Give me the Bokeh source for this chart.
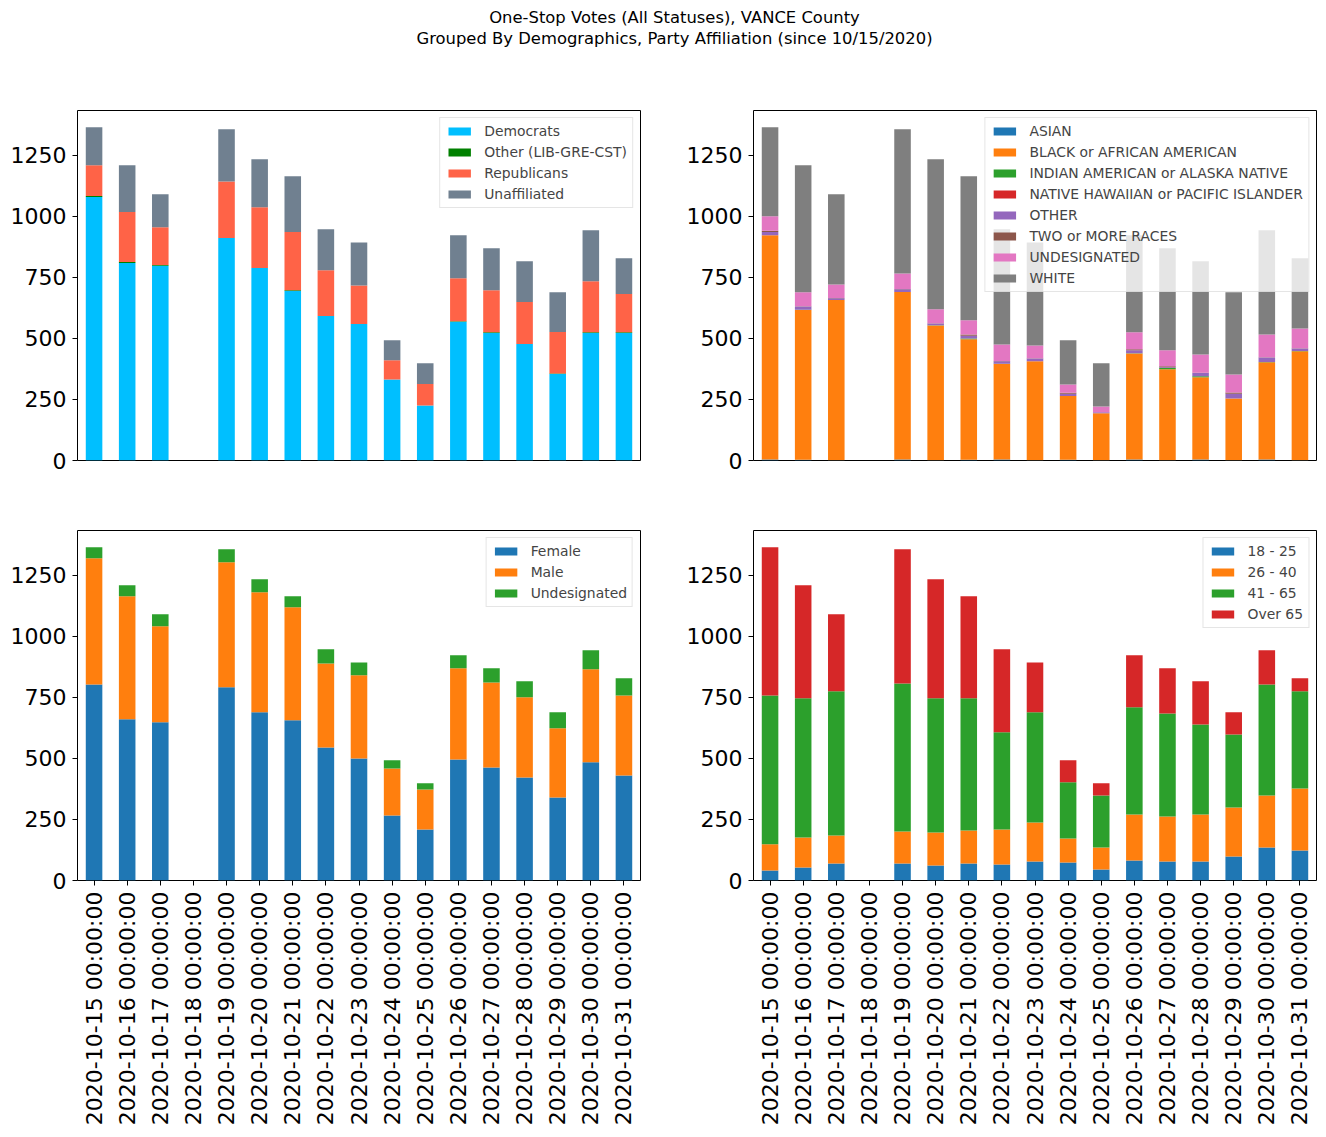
import math
from bokeh.plotting import figure
from bokeh.layouts import column, row
from bokeh.models import (ColumnDataSource, FactorRange, Range1d, FixedTicker,
                          Legend, LegendItem)
from bokeh.core.properties import value
from bokeh.embed import file_html
from bokeh.resources import INLINE

# ---------------- data ----------------
dates = ["2020-10-%02d 00:00:00" % d for d in range(15, 32)]

party_names = ["Democrats", "Other (LIB-GRE-CST)", "Republicans", "Unaffiliated"]
democrats    = [1079, 809, 798, 0, 911, 788, 694, 592, 559, 332, 225, 568, 522, 477, 354, 522, 522]
other_party  = [4, 4, 3, 0, 0, 0, 3, 0, 0, 0, 0, 2, 3, 0, 2, 3, 3]
republicans  = [126, 205, 154, 0, 232, 249, 239, 187, 158, 79, 88, 176, 172, 172, 170, 209, 157]
unaffiliated = [156, 191, 135, 0, 213, 197, 228, 168, 176, 81, 85, 176, 172, 167, 163, 209, 146]

race_names = ["ASIAN", "BLACK or AFRICAN AMERICAN", "INDIAN AMERICAN or ALASKA NATIVE",
              "NATIVE HAWAIIAN or PACIFIC ISLANDER", "OTHER", "TWO or MORE RACES",
              "UNDESIGNATED", "WHITE"]
asian        = [4, 3, 1, 0, 4, 1, 3, 4, 1, 3, 1, 4, 1, 4, 1, 4, 1]
black        = [918, 613, 656, 0, 686, 552, 494, 391, 405, 261, 193, 434, 373, 337, 253, 398, 446]
indian       = [0, 1, 0, 0, 0, 1, 3, 1, 0, 0, 0, 1, 5, 4, 0, 1, 1]
hawaiian     = [0, 0, 0, 0, 0, 0, 0, 0, 0, 0, 0, 0, 0, 0, 0, 0, 0]
other_race   = [14, 14, 7, 0, 11, 7, 11, 10, 12, 9, 4, 12, 3, 13, 19, 19, 11]
two_more     = [5, 1, 1, 0, 1, 1, 5, 1, 1, 4, 0, 5, 4, 1, 5, 1, 1]
undes_race   = [59, 57, 56, 0, 64, 57, 58, 68, 52, 34, 23, 69, 65, 75, 74, 93, 81]
white        = [365, 520, 369, 0, 590, 615, 590, 472, 422, 181, 177, 397, 418, 382, 337, 427, 287]

gender_names = ["Female", "Male", "Undesignated"]
female       = [803, 660, 648, 0, 791, 689, 656, 545, 500, 266, 209, 496, 463, 422, 340, 484, 430]
male         = [517, 504, 393, 0, 512, 491, 463, 344, 340, 193, 164, 373, 348, 328, 283, 381, 328]
undes_gender = [45, 45, 49, 0, 53, 54, 45, 58, 53, 33, 25, 53, 58, 66, 66, 78, 70]

age_names = ["18 - 25", "26 - 40", "41 - 65", "Over 65"]
age_18_25 = [41, 53, 70, 0, 70, 61, 70, 66, 78, 74, 45, 82, 78, 78, 98, 135, 123]
age_26_40 = [107, 123, 114, 0, 131, 136, 135, 143, 160, 98, 90, 188, 184, 192, 201, 213, 254]
age_41_65 = [610, 570, 591, 0, 606, 549, 541, 398, 451, 230, 213, 439, 422, 369, 299, 455, 398]
age_over65 = [607, 463, 315, 0, 549, 488, 418, 340, 204, 90, 50, 213, 185, 177, 91, 140, 53]

y_ticks = [0, 250, 500, 750, 1000, 1250]

title_lines = ["One-Stop Votes (All Statuses), VANCE County",
               "Grouped By Demographics, Party Affiliation (since 10/15/2020)"]

FONT = "DejaVu Sans"
totals = [sum(v) for v in zip(democrats, other_party, republicans, unaffiliated)]
YMAX = max(totals) * 1.05

FRAME_W, FRAME_H = 563, 350


def make_panel(names, series, colors, left, right, top, bottom, show_x):
    data = {"x": dates}
    keys = []
    for i, s in enumerate(series):
        k = "s%d" % i
        data[k] = s
        keys.append(k)
    src = ColumnDataSource(data)
    p = figure(x_range=FactorRange(*dates, range_padding=0),
               y_range=Range1d(0, YMAX),
               width=left + FRAME_W + right, height=top + FRAME_H + bottom,
               min_border_left=left, min_border_right=right,
               min_border_top=top, min_border_bottom=bottom,
               output_backend="svg", toolbar_location=None, tools="")
    rs = p.vbar_stack(keys, x="x", width=0.5, source=src, color=colors,
                      line_color=None)
    p.xgrid.visible = False
    p.ygrid.visible = False
    p.outline_line_color = "black"
    p.outline_line_alpha = 1.0
    p.outline_line_width = 1
    p.background_fill_color = "white"
    p.border_fill_color = "white"

    ya = p.yaxis[0]
    ya.ticker = FixedTicker(ticks=y_ticks)
    ya.axis_line_color = None
    ya.major_tick_out = 5
    ya.major_tick_in = 0
    ya.minor_tick_line_color = None
    ya.major_label_standoff = 6
    ya.major_label_text_font = FONT
    ya.major_label_text_font_size = "22px"
    ya.major_label_text_color = "black"

    xa = p.xaxis[0]
    if show_x:
        xa.axis_line_color = None
        xa.major_tick_out = 5
        xa.major_tick_in = 0
        xa.minor_tick_line_color = None
        xa.major_label_standoff = 6
        xa.major_label_orientation = math.pi / 2
        xa.major_label_text_font = FONT
        xa.major_label_text_font_size = "22px"
        xa.major_label_text_color = "black"
        xa.group_text_font_size = "0px"
    else:
        xa.visible = False

    items = [LegendItem(label=n, renderers=[r]) for n, r in zip(names, rs)]
    leg = Legend(items=items, location="top_right",
                 label_text_font=FONT, label_text_font_size="13.9px",
                 glyph_width=28, glyph_height=10, label_height=14,
                 label_standoff=11, spacing=5, padding=5, margin=7,
                 border_line_color="#cccccc", border_line_width=1,
                 background_fill_color="white", background_fill_alpha=0.8)
    p.add_layout(leg)
    return p


tab = ["#1f77b4", "#ff7f0e", "#2ca02c", "#d62728", "#9467bd", "#8c564b", "#e377c2", "#7f7f7f"]

p1 = make_panel(party_names, [democrats, other_party, republicans, unaffiliated],
                ["#00bfff", "#008000", "#ff6347", "#708090"], 77, 20, 46, 30, False)
p2 = make_panel(race_names, [asian, black, indian, hawaiian, other_race, two_more, undes_race, white],
                tab, 93, 2, 46, 30, False)
p3 = make_panel(gender_names, [female, male, undes_gender], tab[:3], 77, 20, 40, 248, True)
p4 = make_panel(age_names, [age_18_25, age_26_40, age_41_65, age_over65], tab[:4], 93, 2, 40, 248, True)

# title strip
TW, TH = 1318, 64
pt = figure(x_range=Range1d(0, TW), y_range=Range1d(TH, 0), width=TW, height=TH,
            min_border=0, output_backend="svg", toolbar_location=None, tools="")
pt.axis.visible = False
pt.grid.visible = False
pt.outline_line_color = None
pt.text(x=[674, 674], y=[17, 38], text=title_lines, text_align="center",
        text_baseline="alphabetic", text_font=value(FONT),
        text_font_size="16.4px", text_color="black")

layout = column(pt, row(p1, p2), row(p3, p4))

open("out.html", "w").write(file_html(layout, INLINE))
